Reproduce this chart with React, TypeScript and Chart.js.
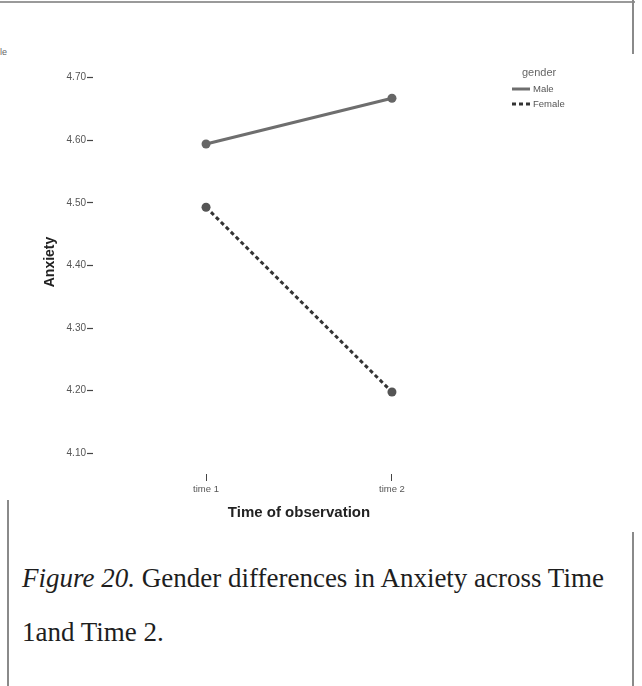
import React, { useEffect, useRef } from "react";
import { Chart, registerables } from "chart.js";

Chart.register(...registerables);

// Observation times along the x axis
const categories = ["time 1", "time 2"];
// Mean anxiety score per gender at each time
const maleValues = [4.594, 4.667];
const femaleValues = [4.493, 4.198];
// Value ticks on the anxiety axis
const yTicks = [4.1, 4.2, 4.3, 4.4, 4.5, 4.6, 4.7];

const SANS = "'Liberation Sans', Arial, sans-serif";
const SERIF = "'Liberation Serif', 'Times New Roman', serif";

const maleStyle = { color: "#6e6e6e", dash: [] as number[] };
const femaleStyle = { color: "#333333", dash: [4, 3] };

function LegendRow({ label, color, dash }: { label: string; color: string; dash: number[] }) {
  return (
    <div style={{ display: "flex", alignItems: "center", height: 15 }}>
      <svg width={18} height={6} style={{ marginRight: 3 }}>
        <line x1={0} y1={3} x2={18} y2={3} stroke={color} strokeWidth={3} strokeDasharray={dash.length ? dash.join(" ") : undefined} />
      </svg>
      <span style={{ fontSize: 9.5, color: "#555" }}>{label}</span>
    </div>
  );
}

export default function App() {
  const canvasRef = useRef<HTMLCanvasElement | null>(null);

  useEffect(() => {
    if (!canvasRef.current) return;
    const chart = new Chart(canvasRef.current, {
      type: "line",
      data: {
        datasets: [
          {
            label: "Male",
            data: maleValues.map((v, i) => ({ x: i + 1, y: v })),
            borderColor: maleStyle.color,
            borderDash: maleStyle.dash,
            borderWidth: 3,
            pointRadius: 4.5,
            pointBackgroundColor: "#666",
            pointBorderWidth: 0,
            fill: false,
          },
          {
            label: "Female",
            data: femaleValues.map((v, i) => ({ x: i + 1, y: v })),
            borderColor: femaleStyle.color,
            borderDash: femaleStyle.dash,
            borderWidth: 3,
            pointRadius: 4.5,
            pointBackgroundColor: "#555",
            pointBorderWidth: 0,
            fill: false,
          },
        ],
      },
      options: {
        responsive: false,
        animation: false,
        layout: { padding: { left: 42, right: 137, top: 50, bottom: 18 } },
        plugins: { legend: { display: false }, tooltip: { enabled: false } },
        scales: {
          x: {
            type: "linear",
            min: 0.392,
            max: 2.608,
            afterBuildTicks: (scale: any) => {
              scale.ticks = categories.map((_, i) => ({ value: i + 1 }));
            },
            afterFit: (scale: any) => {
              scale.height = 48;
            },
            ticks: {
              autoSkip: false,
              maxRotation: 0,
              padding: 3,
              color: "#555",
              font: { family: SANS, size: 9.5 },
              callback: (v: any) => categories[Math.round(Number(v)) - 1] ?? "",
            },
            grid: { display: true, drawOnChartArea: false, drawTicks: true, tickLength: 7, tickColor: "#444", tickWidth: 1 },
            border: { display: false },
            title: {
              display: true,
              text: "Time of observation",
              color: "#222",
              padding: 0,
              font: { family: SANS, size: 15, weight: "bold" },
            },
          },
          y: {
            type: "linear",
            min: 4.067,
            max: 4.744,
            afterBuildTicks: (scale: any) => {
              scale.ticks = yTicks.map((v) => ({ value: v }));
            },
            afterFit: (scale: any) => {
              scale.width = 51;
            },
            ticks: {
              padding: 1,
              color: "#555",
              font: { family: SANS, size: 10 },
              callback: (v: any) => Number(v).toFixed(2),
            },
            grid: { display: true, drawOnChartArea: false, drawTicks: true, tickLength: 6, tickColor: "#444", tickWidth: 1.2 },
            border: { display: false },
            title: {
              display: true,
              text: "Anxiety",
              color: "#222",
              padding: 0,
              font: { family: SANS, size: 14, weight: "bold" },
            },
          },
        },
      },
    } as any);
    return () => chart.destroy();
  }, []);

  return (
    <div style={{ position: "absolute", left: 0, top: 0, width: 642, height: 686, background: "#fff", overflow: "hidden", fontFamily: SANS }}>
      {/* page rules around the figure */}
      <div style={{ position: "absolute", left: 0, top: 1, width: 635, height: 2, background: "#9a9a9a" }} />
      <div style={{ position: "absolute", left: 632, top: 0, width: 2, height: 54, background: "#8a8a8a" }} />
      <div style={{ position: "absolute", left: 7, top: 500, width: 2, height: 186, background: "#8a8a8a" }} />
      <div style={{ position: "absolute", left: 632, top: 532, width: 2, height: 154, background: "#8a8a8a" }} />
      <span style={{ position: "absolute", left: 0, top: 47, fontSize: 9, color: "#666" }}>le</span>

      <canvas ref={canvasRef} width={642} height={540} style={{ position: "absolute", left: 0, top: 0, display: "block" }} />

      <div style={{ position: "absolute", left: 512, top: 66 }}>
        <div style={{ fontSize: 11, color: "#666", marginLeft: 10, marginBottom: 3 }}>gender</div>
        <LegendRow label="Male" color={maleStyle.color} dash={maleStyle.dash} />
        <LegendRow label="Female" color={femaleStyle.color} dash={femaleStyle.dash} />
      </div>

      <div style={{ position: "absolute", left: 22, top: 551, fontFamily: SERIF, fontSize: 27, color: "#1e1e1e", lineHeight: "54px", whiteSpace: "nowrap" }}>
        <div><i>Figure 20.</i> Gender differences in Anxiety across Time</div>
        <div>1and Time 2.</div>
      </div>
    </div>
  );
}
